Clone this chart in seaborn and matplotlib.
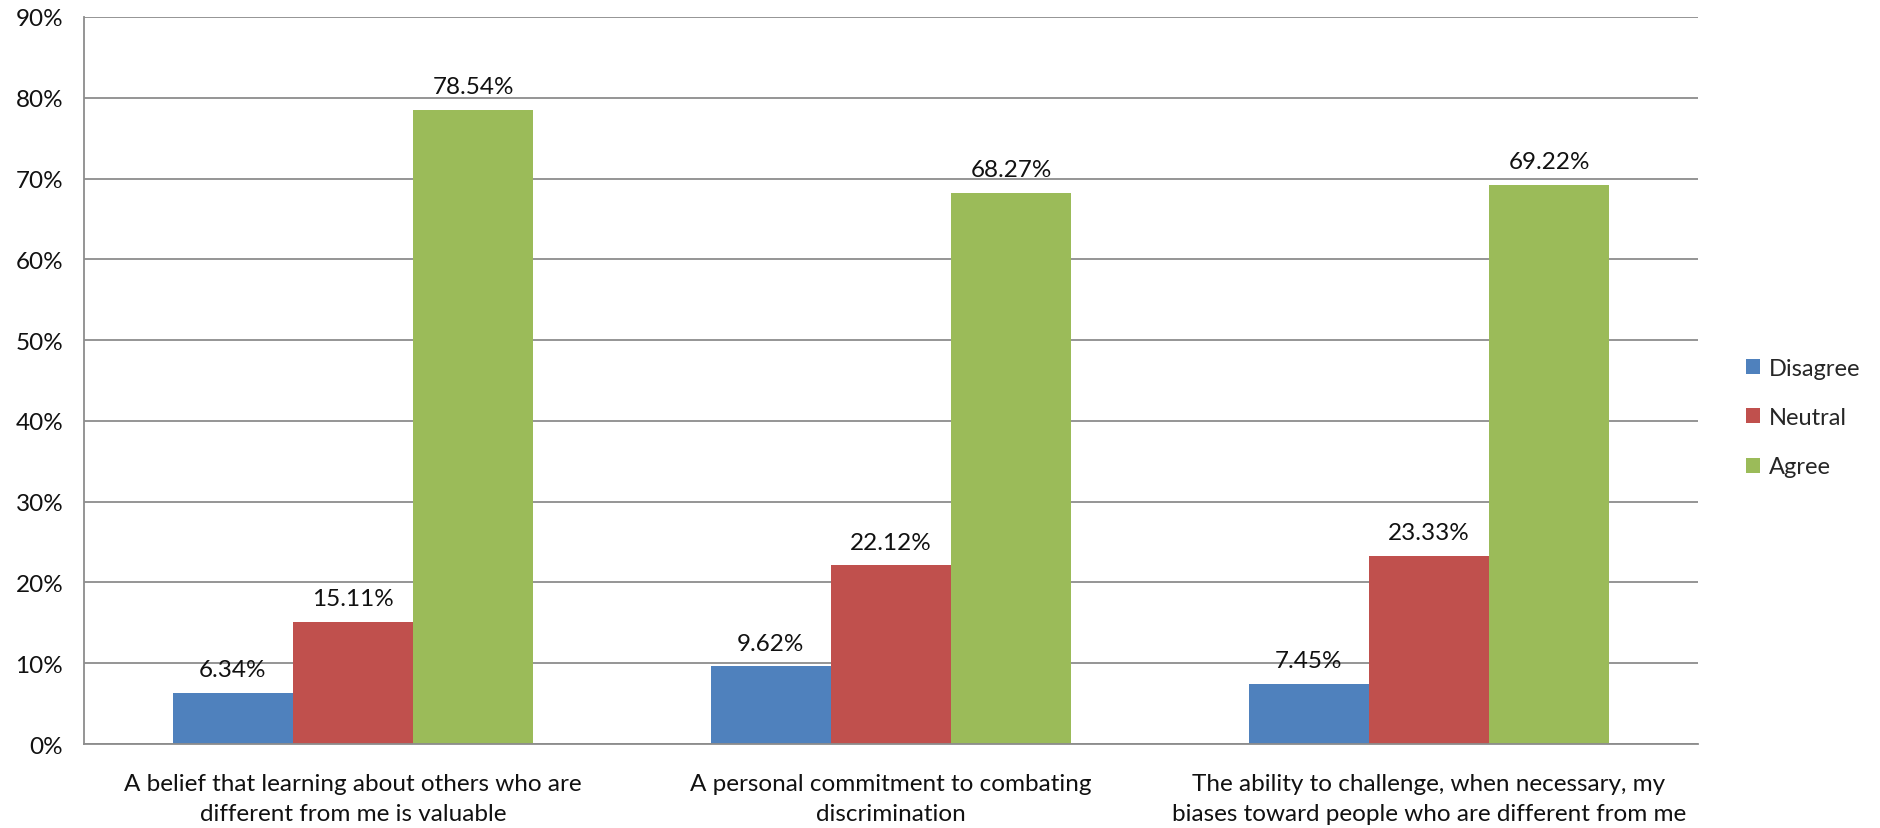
import matplotlib
matplotlib.use("Agg")
import matplotlib.pyplot as plt
from matplotlib.patches import Patch
import seaborn as sns
import pandas as pd

categories = [
    "A belief that learning about others who are\ndifferent from me is valuable",
    "A personal commitment to combating\ndiscrimination",
    "The ability to challenge, when necessary, my\nbiases toward people who are different from me",
]
series_names = ["Disagree", "Neutral", "Agree"]
disagree = [6.34, 9.62, 7.45]
neutral = [15.11, 22.12, 23.33]
agree = [78.54, 68.27, 69.22]
y_ticks = [0, 10, 20, 30, 40, 50, 60, 70, 80, 90]
colors = ["#4F81BD", "#C0504D", "#9BBB59"]

df = pd.DataFrame({
    "category": categories * 3,
    "response": sum([[s] * len(categories) for s in series_names], []),
    "value": disagree + neutral + agree,
})

sns.set_theme(style="white")
plt.rcParams["font.family"] = ["Lato", "DejaVu Sans"]

fig = plt.figure(figsize=(18.81, 8.29), dpi=100)
ax = fig.add_axes([0.0447, 0.1013, 0.858, 0.877])

sns.barplot(data=df, x="category", y="value", hue="response",
            hue_order=series_names, order=categories, palette=colors,
            width=0.67, saturation=1, ax=ax, legend=False, errorbar=None,
            linewidth=0)

for container in ax.containers:
    ax.bar_label(container, fmt="%.2f%%", padding=9, fontsize=17.5, color="#111111")

ax.set_ylim(0, 90)
ax.set_yticks(y_ticks)
ax.set_yticklabels([f"{t}%" for t in y_ticks], fontsize=17.5, color="#111111")
ax.tick_params(axis="x", labelsize=17.5, colors="#111111", pad=21, length=0)
for lbl in ax.get_xticklabels():
    lbl.set_linespacing(1.5)
ax.tick_params(axis="y", length=0, pad=15)
ax.set_xlabel("")
ax.set_ylabel("")
ax.yaxis.grid(True, color="#8C8C8C", linewidth=1.3)
ax.set_axisbelow(True)
for side in ["top", "right"]:
    ax.spines[side].set_visible(False)
for side in ["left", "bottom"]:
    ax.spines[side].set_color("#8C8C8C")
    ax.spines[side].set_linewidth(1.3)

handles = [Patch(facecolor=c, edgecolor="none") for c in colors]
fig.legend(handles, series_names, loc="center left",
           bbox_to_anchor=(0.917, 0.495), frameon=False, fontsize=17,
           handlelength=0.6, handleheight=0.6, handletextpad=0.35,
           labelspacing=1.2)

fig.savefig("out.png", dpi=100)
